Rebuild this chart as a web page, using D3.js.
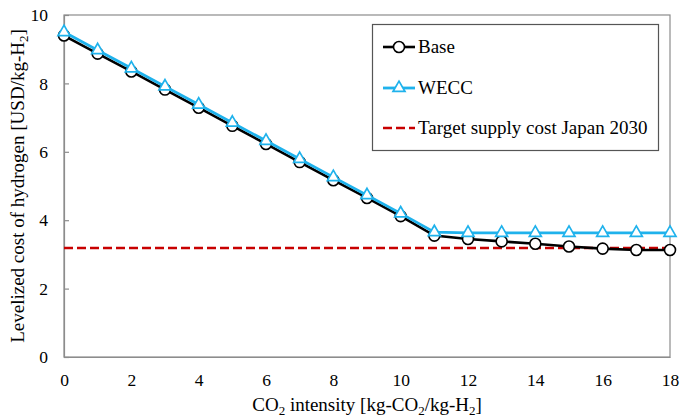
<!DOCTYPE html>
<html><head><meta charset="utf-8">
<script src="https://cdn.jsdelivr.net/npm/d3@7/dist/d3.min.js"></script>
<style>body{margin:0;background:#fff;} svg text{font-family:"Liberation Serif","Times New Roman",Times,Tinos,"DejaVu Serif",serif !important;}</style>
</head><body>
<svg id="c" width="683" height="418"></svg>
<script>
const intensity = [0,1,2,3,4,5,6,7,8,9,10,11,12,13,14,15,16,17,18];
const baseCost = [9.40,8.87,8.35,7.82,7.29,6.76,6.23,5.70,5.17,4.65,4.12,3.55,3.45,3.38,3.31,3.23,3.17,3.13,3.13];
const weccCost = [9.50,8.97,8.44,7.91,7.38,6.85,6.32,5.79,5.26,4.73,4.20,3.65,3.63,3.63,3.63,3.63,3.63,3.63,3.63];
const targetCost = 3.19;
const xTicks = [0,2,4,6,8,10,12,14,16,18];
const yTicks = [0,2,4,6,8,10];

const FONT = '"Liberation Serif","Times New Roman",Times,serif';
const svg = d3.select("#c");
const L=64, R=670, T=15, B=357;
const x = d3.scaleLinear().domain([0,18]).range([L,R]);
const y = d3.scaleLinear().domain([0,10]).range([B,T]);

// frame
svg.append("rect").attr("x",L).attr("y",T).attr("width",R-L).attr("height",B-T)
  .attr("fill","none").attr("stroke","#8c8c8c").attr("stroke-width",1.2);

const yAxis = svg.append("g").attr("transform",`translate(${L},0)`)
  .call(d3.axisLeft(y).tickValues(yTicks).tickSize(-5).tickPadding(16).tickFormat(d3.format("d")));
yAxis.attr("font-family",FONT);
yAxis.select(".domain").attr("stroke","#8c8c8c").attr("stroke-width",1.2);
yAxis.selectAll(".tick line").attr("stroke","#8c8c8c").attr("stroke-width",1.2);
yAxis.selectAll("text").attr("font-size",17.5).attr("fill","#000")
  .attr("font-family",FONT).style("font-family",FONT);

const xAxis = svg.append("g").attr("transform",`translate(0,${B})`)
  .call(d3.axisBottom(x).tickValues(xTicks).tickSize(0).tickPadding(17).tickFormat(d3.format("d")));
xAxis.attr("font-family",FONT);
xAxis.select(".domain").attr("stroke","#8c8c8c").attr("stroke-width",1.2);
xAxis.selectAll("text").attr("font-size",17.5).attr("fill","#000")
  .attr("font-family",FONT).style("font-family",FONT);

// target line
svg.append("line").attr("x1",x(0)).attr("x2",x(18)).attr("y1",y(targetCost)).attr("y2",y(targetCost))
  .attr("stroke","#c80000").attr("stroke-width",2.5).attr("stroke-dasharray","9,4");

const line = d3.line().x((d,i)=>x(intensity[i])).y(d=>y(d));
svg.append("path").datum(baseCost).attr("d",line).attr("fill","none").attr("stroke","#000").attr("stroke-width",2.6);
svg.selectAll(".bm").data(baseCost).enter().append("circle")
  .attr("cx",(d,i)=>x(intensity[i])).attr("cy",d=>y(d)).attr("r",5.5)
  .attr("fill","#fff").attr("stroke","#000").attr("stroke-width",1.6);

svg.append("path").datum(weccCost).attr("d",line).attr("fill","none").attr("stroke","#1fb2ec").attr("stroke-width",2.8);
const tri = d3.symbol().type(d3.symbolTriangle).size(62);
svg.selectAll(".wm").data(weccCost).enter().append("path")
  .attr("d",tri).attr("transform",(d,i)=>`translate(${x(intensity[i])},${y(d)})`)
  .attr("fill","#fff").attr("stroke","#1fb2ec").attr("stroke-width",1.7);

// legend
const lg = svg.append("g").attr("font-family",FONT);
lg.append("rect").attr("x",372.5).attr("y",24.5).attr("width",286).attr("height",126)
  .attr("fill","#fff").attr("stroke","#555").attr("stroke-width",1.2);
const items = [
  {label:"Base", yy:47, kind:"base"},
  {label:"WECC", yy:88, kind:"wecc"},
  {label:"Target supply cost Japan 2030", yy:128, kind:"target"}
];
items.forEach(it=>{
  const x1=383, x2=415, xm=(x1+x2)/2;
  if(it.kind==="base"){
    lg.append("line").attr("x1",x1).attr("x2",x2).attr("y1",it.yy).attr("y2",it.yy).attr("stroke","#000").attr("stroke-width",2.6);
    lg.append("circle").attr("cx",xm).attr("cy",it.yy).attr("r",5.5).attr("fill","#fff").attr("stroke","#000").attr("stroke-width",1.6);
  } else if(it.kind==="wecc"){
    lg.append("line").attr("x1",x1).attr("x2",x2).attr("y1",it.yy).attr("y2",it.yy).attr("stroke","#1fb2ec").attr("stroke-width",2.8);
    lg.append("path").attr("d",tri).attr("transform",`translate(${xm},${it.yy})`).attr("fill","#fff").attr("stroke","#1fb2ec").attr("stroke-width",1.7);
  } else {
    lg.append("line").attr("x1",x1).attr("x2",x2).attr("y1",it.yy).attr("y2",it.yy).attr("stroke","#c80000").attr("stroke-width",2.5).attr("stroke-dasharray","9,4");
  }
  lg.append("text").attr("x",418).attr("y",it.yy+5.5).attr("font-size",19).text(it.label);
});

// axis titles
const xt = svg.append("text").attr("x",(L+R)/2).attr("y",411).attr("text-anchor","middle").attr("font-size",19).attr("font-family",FONT);
xt.append("tspan").text("CO");
xt.append("tspan").attr("font-size",13).attr("dy",4).text("2");
xt.append("tspan").attr("dy",-4).text(" intensity [kg-CO");
xt.append("tspan").attr("font-size",13).attr("dy",4).text("2");
xt.append("tspan").attr("dy",-4).text("/kg-H");
xt.append("tspan").attr("font-size",13).attr("dy",4).text("2");
xt.append("tspan").attr("dy",-4).text("]");

const yt = svg.append("text").attr("transform",`translate(24,${(T+B)/2}) rotate(-90)`).attr("text-anchor","middle").attr("font-size",19).attr("font-family",FONT);
yt.append("tspan").text("Levelized cost of hydrogen [USD/kg-H");
yt.append("tspan").attr("font-size",13).attr("dy",4).text("2");
yt.append("tspan").attr("dy",-4).text("]");
</script>
</body></html>
